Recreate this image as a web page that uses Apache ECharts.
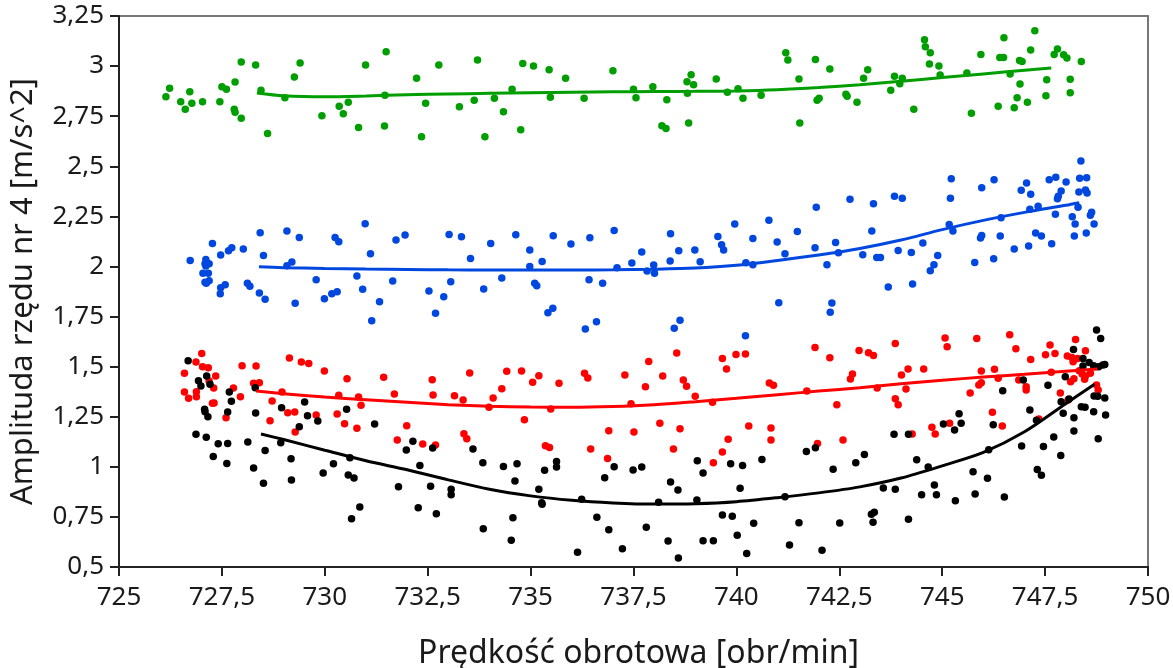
<!DOCTYPE html>
<html>
<head>
<meta charset="utf-8">
<script src="https://cdn.jsdelivr.net/npm/echarts@6/dist/echarts.min.js"></script>
<style>
html,body{margin:0;padding:0;background:#fff;}
#chart{width:1173px;height:668px;}
</style>
</head>
<body>
<div id="chart"></div>
<script>
const xTickLabels = ['725','727,5','730','732,5','735','737,5','740','742,5','745','747,5','750'];
const yTickLabels = ['0,5','0,75','1','1,25','1,5','1,75','2','2,25','2,5','2,75','3','3,25'];
const xTickValues = [725,727.5,730,732.5,735,737.5,740,742.5,745,747.5,750];
const yTickValues = [0.5,0.75,1,1.25,1.5,1.75,2,2.25,2.5,2.75,3,3.25];

const greenPoints = [
[726.14,2.847],[726.23,2.889],[726.50,2.822],[726.61,2.785],[726.72,2.872],[726.77,2.814],[727.03,2.822],[727.45,2.822],[727.50,2.897],[727.61,2.884],[727.82,2.920],[727.80,2.785],[727.82,2.769],[727.97,3.020],[727.97,2.740],[728.32,3.005],[728.45,2.880],[728.61,2.664],[729.03,2.842],[729.26,2.945],[729.40,3.016],[729.93,2.752],[730.35,2.800],[730.45,2.762],[730.57,2.820],[730.82,2.694],[730.99,3.005],[731.45,2.701],[731.49,3.071],[731.46,2.855],[732.23,2.939],[732.45,2.815],[732.35,2.647],[732.77,3.006],[733.27,2.797],[733.63,2.829],[733.71,3.030],[733.89,2.647],[734.12,2.839],[734.34,2.772],[734.55,2.885],[734.81,3.013],[734.76,2.682],[735.07,3.001],[735.45,2.982],[735.48,2.844],[735.85,2.939],[736.30,2.839],[737.00,2.977],[737.50,2.884],[737.56,2.842],[737.97,2.897],[738.31,2.832],[738.19,2.702],[738.29,2.689],[738.84,2.716],[738.81,2.864],[738.80,2.922],[738.90,2.957],[738.96,2.907],[739.51,2.935],[739.78,2.870],[740.04,2.887],[740.16,2.840],[740.60,2.854],[741.20,3.066],[741.25,3.030],[741.52,2.935],[741.54,2.716],[741.92,3.033],[741.96,2.830],[742.01,2.839],[742.27,2.985],[742.66,2.860],[742.69,2.850],[742.93,2.820],[743.09,2.939],[743.19,2.982],[743.75,2.879],[743.84,2.949],[744.03,2.939],[743.97,2.912],[744.31,2.785],[744.57,3.131],[744.59,3.096],[744.71,3.066],[744.69,3.011],[744.92,3.001],[744.95,2.955],[745.60,2.965],[745.71,2.765],[745.94,3.058],[746.36,2.800],[746.40,3.043],[746.49,3.043],[746.50,3.141],[746.65,2.960],[746.75,2.792],[746.82,2.842],[746.89,2.910],[746.88,3.028],[746.94,3.023],[747.07,2.820],[747.15,3.080],[747.25,3.176],[747.52,2.852],[747.54,2.932],[747.72,3.058],[747.80,3.085],[747.95,3.056],[748.03,3.041],[748.11,2.934],[748.11,2.867],[748.38,3.023]
];

const bluePoints = [
[726.73,2.030],[727.11,2.035],[727.09,2.013],[727.19,2.013],[727.11,2.002],[727.04,1.966],[727.17,1.966],[727.09,1.921],[727.19,1.929],[727.12,1.916],[727.27,2.115],[727.47,2.057],[727.66,2.078],[727.74,2.093],[728.02,2.087],[727.46,1.864],[727.47,1.894],[727.58,1.909],[728.12,1.916],[728.18,1.901],[728.43,2.168],[728.51,2.055],[728.41,1.867],[728.55,1.836],[729.08,2.177],[729.08,2.003],[729.20,2.022],[729.28,1.816],[729.38,2.145],[729.79,1.934],[729.99,1.839],[730.17,1.864],[730.30,1.874],[730.25,2.145],[730.34,2.123],[730.78,1.952],[730.92,1.886],[730.98,2.213],[731.11,2.063],[731.33,1.824],[731.14,1.729],[731.65,1.927],[731.73,2.132],[731.95,2.157],[732.53,1.877],[732.69,1.767],[732.89,1.849],[733.02,2.160],[733.06,1.924],[733.32,2.148],[733.54,2.040],[733.86,1.887],[734.03,2.115],[734.30,1.942],[734.64,2.158],[734.98,2.082],[734.98,2.000],[735.10,1.916],[735.15,1.904],[735.28,2.025],[735.42,1.769],[735.54,1.791],[735.55,2.153],[735.98,2.112],[736.33,1.688],[736.60,1.724],[736.44,2.143],[736.42,1.934],[736.75,1.916],[737.03,2.180],[737.10,1.994],[737.46,2.017],[737.70,2.072],[737.83,1.977],[737.99,2.007],[738.01,1.966],[738.39,2.027],[738.40,2.163],[738.60,2.078],[738.49,1.691],[738.63,1.731],[738.99,2.082],[739.12,2.023],[739.55,2.150],[739.64,2.108],[739.69,2.082],[739.96,2.212],[740.23,2.018],[740.40,2.140],[740.40,2.008],[740.22,1.654],[740.79,2.230],[740.99,2.122],[741.18,2.063],[741.03,1.819],[741.48,2.175],[741.91,2.093],[741.94,2.296],[742.20,2.008],[742.28,1.772],[742.32,1.817],[742.41,2.120],[742.48,2.068],[742.76,2.336],[743.07,2.058],[743.29,2.177],[743.33,2.313],[743.41,2.045],[743.50,2.045],[743.69,1.897],[743.84,2.350],[744.03,2.340],[743.93,2.080],[744.25,2.070],[744.28,1.912],[744.53,2.117],[744.71,1.979],[744.80,2.008],[744.89,2.055],[745.17,2.210],[745.26,2.177],[745.20,2.340],[745.22,2.438],[745.79,2.020],[745.93,2.142],[745.96,2.155],[745.96,2.393],[746.25,2.038],[746.26,2.433],[746.41,2.152],[746.43,2.243],[746.75,2.087],[746.92,2.380],[747.05,2.416],[747.15,2.360],[747.10,2.102],[747.13,2.285],[747.33,2.300],[747.27,2.167],[747.41,2.152],[747.66,2.113],[747.60,2.433],[747.76,2.445],[747.75,2.261],[747.80,2.338],[747.82,2.351],[747.89,2.376],[748.01,2.421],[748.16,2.248],[748.23,2.212],[748.21,2.152],[748.32,2.371],[748.30,2.296],[748.34,2.440],[748.51,2.443],[748.37,2.526],[748.48,2.381],[748.52,2.366],[748.50,2.167],[748.60,2.255],[748.63,2.271],[748.69,2.212]
];

const redPoints = [
[726.59,1.467],[726.59,1.373],[726.69,1.342],[726.87,1.523],[727.01,1.566],[726.88,1.375],[726.88,1.350],[727.03,1.499],[727.17,1.495],[727.35,1.453],[727.19,1.428],[727.30,1.393],[727.31,1.318],[727.27,1.317],[727.60,1.245],[727.78,1.393],[727.95,1.350],[727.99,1.504],[728.33,1.503],[728.27,1.417],[728.41,1.420],[728.72,1.328],[728.67,1.230],[728.96,1.373],[729.14,1.543],[729.10,1.270],[729.27,1.273],[729.28,1.174],[729.43,1.523],[729.61,1.516],[729.79,1.258],[729.99,1.478],[730.30,1.263],[730.34,1.357],[730.48,1.215],[730.54,1.440],[730.78,1.192],[730.82,1.348],[730.88,1.307],[731.43,1.447],[731.69,1.363],[731.76,1.134],[731.99,1.205],[732.38,1.114],[732.69,1.109],[732.61,1.435],[732.63,1.358],[733.15,1.355],[733.36,1.333],[733.38,1.165],[733.45,1.140],[733.52,1.468],[733.99,1.297],[734.09,1.343],[734.30,1.390],[734.42,1.477],[734.78,1.478],[734.85,1.235],[735.05,1.422],[735.20,1.455],[735.36,1.105],[735.46,1.097],[735.49,1.288],[735.69,1.417],[736.31,1.467],[736.39,1.443],[736.46,1.089],[736.90,1.180],[736.87,1.042],[737.29,1.458],[737.44,1.315],[737.51,1.174],[737.79,1.400],[737.87,1.526],[738.14,1.217],[738.21,1.453],[738.47,1.089],[738.55,1.568],[738.63,1.190],[738.71,1.433],[738.79,1.402],[739.00,1.352],[739.42,1.322],[739.44,1.020],[739.66,1.541],[739.76,1.488],[739.66,1.074],[739.80,1.137],[739.99,1.561],[740.22,1.563],[740.30,1.204],[740.80,1.418],[740.90,1.407],[740.84,1.194],[740.84,1.134],[741.71,1.378],[741.91,1.596],[741.97,1.117],[742.27,1.544],[742.44,1.310],[742.59,1.134],[742.77,1.438],[742.82,1.463],[742.98,1.581],[743.21,1.569],[743.33,1.556],[743.42,1.393],[743.86,1.616],[743.86,1.340],[743.93,1.310],[744.01,1.458],[744.17,1.488],[744.12,1.388],[744.27,1.164],[744.55,1.488],[744.75,1.197],[744.83,1.164],[745.07,1.643],[745.12,1.599],[745.18,1.217],[745.68,1.368],[745.84,1.641],[745.89,1.408],[745.95,1.420],[745.95,1.478],[746.22,1.272],[746.27,1.487],[746.36,1.442],[746.46,1.204],[746.64,1.659],[746.79,1.589],[746.86,1.433],[747.04,1.400],[747.04,1.383],[747.15,1.536],[747.35,1.239],[747.51,1.559],[747.62,1.608],[747.74,1.566],[747.65,1.472],[747.87,1.368],[748.06,1.333],[748.04,1.553],[748.15,1.546],[748.24,1.636],[748.18,1.524],[748.29,1.541],[748.12,1.425],[748.20,1.440],[748.33,1.480],[748.40,1.463],[748.48,1.453],[748.46,1.437],[748.48,1.579],[748.60,1.467],[748.75,1.408],[748.79,1.383]
];

const blackPoints = [
[726.68,1.529],[726.93,1.430],[726.99,1.403],[727.13,1.453],[727.21,1.412],[727.08,1.287],[727.16,1.250],[727.09,1.275],[726.87,1.162],[727.12,1.147],[727.29,1.052],[727.41,1.115],[727.64,1.117],[727.62,1.017],[727.68,1.373],[727.73,1.327],[727.64,1.273],[728.13,1.124],[728.27,0.994],[728.31,1.395],[728.32,1.268],[728.51,0.918],[728.55,1.082],[728.93,1.120],[728.95,1.295],[729.18,1.040],[729.19,0.934],[729.38,1.200],[729.51,1.323],[729.58,1.255],[729.83,1.229],[729.96,0.969],[730.21,1.015],[730.53,1.287],[730.61,1.045],[730.57,0.959],[730.71,0.944],[730.65,0.741],[730.85,0.799],[731.21,1.214],[731.79,0.901],[731.98,1.084],[732.14,1.127],[732.27,0.796],[732.31,1.007],[732.57,0.903],[732.62,1.094],[732.71,0.766],[733.07,0.888],[733.07,0.861],[733.60,1.089],[733.84,1.020],[733.85,0.691],[734.34,1.002],[734.67,1.015],[734.62,0.929],[734.57,0.746],[734.53,0.633],[735.20,0.888],[735.27,0.821],[735.28,0.813],[735.34,0.983],[735.63,1.027],[735.63,0.999],[736.14,0.573],[736.24,0.838],[736.61,0.748],[736.80,0.946],[736.90,0.686],[737.03,1.000],[737.23,0.591],[737.49,0.984],[737.70,0.999],[737.81,0.698],[738.11,0.823],[738.34,0.630],[738.40,0.924],[738.58,0.884],[738.59,0.545],[739.04,0.834],[739.05,1.030],[739.19,0.969],[739.19,0.631],[739.44,0.631],[739.66,0.759],[739.90,0.753],[739.86,1.015],[740.02,0.658],[740.09,0.893],[740.15,1.007],[740.25,0.568],[740.42,0.718],[740.62,1.037],[741.18,0.851],[741.29,0.610],[741.52,0.721],[741.70,1.077],[741.92,1.095],[742.08,0.583],[742.35,0.988],[742.51,0.720],[742.90,1.020],[743.11,1.062],[743.28,0.763],[743.35,0.773],[743.32,0.723],[743.57,0.894],[743.86,0.888],[743.83,1.162],[744.18,1.162],[744.18,0.738],[744.38,1.035],[744.50,0.861],[744.66,0.999],[744.81,0.909],[744.86,0.861],[745.03,1.214],[745.30,1.184],[745.32,0.831],[745.41,1.265],[745.46,1.217],[745.75,0.976],[745.80,0.864],[746.10,0.943],[746.13,1.085],[746.24,1.210],[746.47,1.380],[746.51,0.849],[746.93,1.104],[746.97,1.433],[747.13,1.283],[747.29,1.232],[747.31,0.986],[747.41,0.958],[747.46,1.102],[747.57,1.407],[747.71,1.149],[747.88,1.057],[747.89,1.325],[747.94,1.267],[747.99,1.450],[748.08,1.338],[748.19,1.586],[748.20,1.245],[748.20,1.179],[748.38,1.300],[748.47,1.297],[748.42,1.541],[748.57,1.521],[748.42,1.503],[748.68,1.504],[748.80,1.499],[748.90,1.508],[748.95,1.511],[748.68,1.275],[748.75,1.683],[748.85,1.641],[748.69,1.353],[748.78,1.352],[748.95,1.343],[748.79,1.140],[748.97,1.258]
];

const greenFit = [[728.35,2.866],[729,2.852],[730,2.847],[731,2.851],[732,2.857],[733,2.861],[734,2.864],[735,2.867],[736,2.870],[737,2.872],[738,2.873],[739,2.874],[740,2.876],[741,2.882],[742,2.893],[743,2.907],[744,2.924],[745,2.943],[746,2.961],[747,2.979],[747.65,2.990]];
const blueFit = [[728.4,1.998],[729,1.994],[730,1.990],[731,1.987],[732,1.985],[733,1.983],[734,1.982],[735,1.982],[736,1.982],[737,1.983],[738,1.986],[739,1.992],[740,2.006],[741,2.030],[742,2.057],[743,2.090],[744,2.132],[745,2.184],[746,2.230],[747,2.270],[748,2.305],[748.33,2.318]];
const redFit = [[728.33,1.378],[729,1.365],[730,1.348],[731,1.335],[732,1.322],[733,1.310],[734,1.302],[735,1.298],[736,1.297],[737,1.301],[738,1.310],[739,1.325],[740,1.342],[741,1.360],[742,1.378],[743,1.395],[744,1.415],[745,1.432],[746,1.448],[747,1.462],[748,1.477],[748.77,1.488]];
const blackFit = [[728.45,1.164],[729,1.136],[730,1.083],[731,1.030],[732,0.985],[733,0.935],[734,0.888],[735,0.855],[736,0.833],[737,0.820],[738,0.814],[739,0.816],[740,0.826],[741,0.846],[742,0.870],[743,0.900],[744,0.944],[745,1.005],[746,1.072],[747,1.175],[748,1.315],[748.7,1.412]];

const COLORS = {green:'#009e00', blue:'#0047e0', red:'#ff0000', black:'#000000'};
const FONT = 'Noto Sans';

function lookup(values, labels){
  return function(v){
    for (let i=0;i<values.length;i++){ if (Math.abs(values[i]-v)<1e-6) return labels[i]; }
    return '';
  };
}

function scatter(data, color){
  return {type:'scatter', data:data, symbol:'circle', symbolSize:7.5,
    itemStyle:{color:color, opacity:1}, silent:true, z:2};
}
function fit(data, color){
  return {type:'line', data:data, smooth:0.3, showSymbol:false, symbol:'none',
    lineStyle:{color:color, width:3}, silent:true, z:3};
}

const chart = echarts.init(document.getElementById('chart'), null, {renderer:'canvas'});
chart.setOption({
  animation:false,
  backgroundColor:'#ffffff',
  grid:{left:119, right:25, top:16, bottom:101, containLabel:false, outerBoundsMode:'none',
        show:true, borderColor:'#777', borderWidth:2, backgroundColor:'transparent'},
  xAxis:{
    type:'value', min:725, max:750, interval:2.5,
    name:'Prędkość obrotowa [obr/min]', nameLocation:'middle', nameGap:71,
    nameTextStyle:{fontFamily:FONT, fontSize:32, color:'#1a1a1a', padding:[0,0,0,10]},
    axisLine:{show:true, onZero:false, lineStyle:{color:'#222', width:2}},
    axisTick:{show:true, length:9, lineStyle:{color:'#222', width:2}},
    axisLabel:{fontFamily:FONT, fontSize:26, color:'#1a1a1a', margin:18, formatter:lookup(xTickValues, xTickLabels)},
    splitLine:{show:false}
  },
  yAxis:{
    type:'value', min:0.5, max:3.25, interval:0.25,
    name:'Amplituda rzędu nr 4 [m/s^2]', nameLocation:'middle', nameGap:80, nameRotate:90,
    nameTextStyle:{fontFamily:FONT, fontSize:31, color:'#1a1a1a'},
    axisLine:{show:true, onZero:false, lineStyle:{color:'#222', width:2}},
    axisTick:{show:true, length:9, lineStyle:{color:'#222', width:2}},
    axisLabel:{fontFamily:FONT, fontSize:26, color:'#1a1a1a', margin:15, formatter:lookup(yTickValues, yTickLabels)},
    splitLine:{show:false}
  },
  series:[
    scatter(greenPoints, COLORS.green),
    scatter(bluePoints, COLORS.blue),
    scatter(redPoints, COLORS.red),
    scatter(blackPoints, COLORS.black),
    fit(greenFit, COLORS.green),
    fit(blueFit, COLORS.blue),
    fit(redFit, COLORS.red),
    fit(blackFit, COLORS.black)
  ]
});
</script>
</body>
</html>
